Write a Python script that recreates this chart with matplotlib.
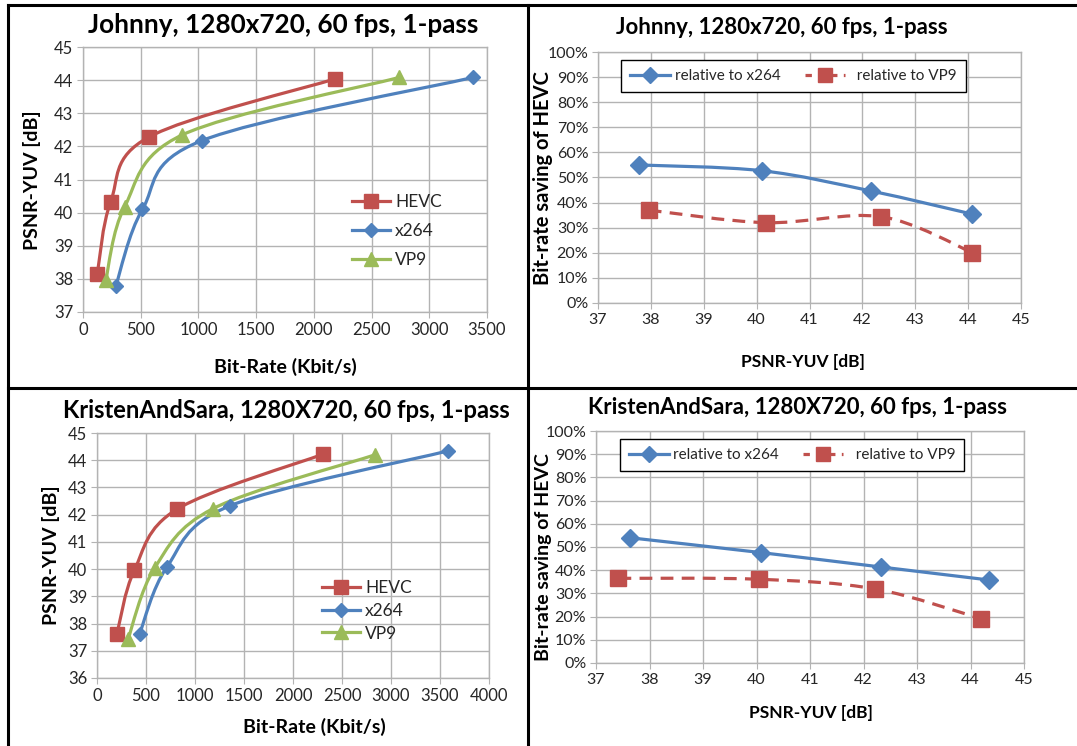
import numpy as np
import matplotlib
matplotlib.use("Agg")
import matplotlib.pyplot as plt
from matplotlib.path import Path
from matplotlib.patches import PathPatch
from matplotlib.lines import Line2D
from matplotlib.ticker import PercentFormatter, MultipleLocator

plt.rcParams['font.family'] = ['Lato', 'DejaVu Sans']

# ---- Johnny, 1280x720 ----
j_hevc_rate = [124, 240, 570, 2186]
j_hevc_psnr = [38.16, 40.33, 42.28, 44.04]
j_x264_rate = [283, 515, 1027, 3378]
j_x264_psnr = [37.77, 40.10, 42.17, 44.08]
j_vp9_rate = [197, 361, 862, 2739]
j_vp9_psnr = [37.96, 40.18, 42.35, 44.08]
j_sav_x264 = [55.0, 52.7, 44.6, 35.4]
j_sav_vp9 = [37.0, 32.0, 34.4, 20.1]

# ---- KristenAndSara, 1280X720 ----
k_hevc_rate = [204, 381, 816, 2305]
k_hevc_psnr = [37.63, 39.96, 42.20, 44.22]
k_x264_rate = [435, 714, 1353, 3579]
k_x264_psnr = [37.63, 40.08, 42.32, 44.34]
k_vp9_rate = [316, 588, 1183, 2838]
k_vp9_psnr = [37.42, 40.04, 42.22, 44.20]
k_sav_x264 = [54.0, 47.6, 41.4, 35.8]
k_sav_vp9 = [36.5, 36.1, 31.9, 19.1]

titles = ["Johnny, 1280x720, 60 fps, 1-pass",
          "KristenAndSara, 1280X720, 60 fps, 1-pass"]

RED = '#C0504D'
BLUE = '#4F81BD'
GREEN = '#9BBB59'
GRID = '#B3B3B3'
TXT = '#262626'

W, H = 1077, 746
fig = plt.figure(figsize=(W / 100, H / 100), dpi=100)


def px_axes(x0, y0, x1, y1):
    """Axes from pixel box (left, top, right, bottom)."""
    return fig.add_axes([x0 / W, 1 - y1 / H, (x1 - x0) / W, (y1 - y0) / H])


def ftext(x, y, s, **kw):
    fig.text(x / W, 1 - y / H, s, ha='center', va='center', **kw)


def smooth_path(ax, xs, ys):
    """Excel-like smoothed line through the points (bezier in screen space)."""
    pts = ax.transData.transform(np.column_stack([xs, ys]))
    n = len(pts)
    verts = [pts[0]]
    codes = [Path.MOVETO]
    for i in range(n - 1):
        p0 = pts[max(i - 1, 0)]
        p1 = pts[i]
        p2 = pts[i + 1]
        p3 = pts[min(i + 2, n - 1)]
        verts += [p1 + (p2 - p0) / 6, p2 - (p3 - p1) / 6, p2]
        codes += [Path.CURVE4] * 3
    return Path(ax.transData.inverted().transform(np.array(verts)), codes)


def style_axes(ax, size):
    ax.grid(True, color=GRID, lw=1.0)
    ax.set_axisbelow(True)
    for sp in ax.spines.values():
        sp.set_color(GRID)
        sp.set_linewidth(1.0)
    ax.tick_params(direction='out', length=4, color=GRID, labelcolor=TXT,
                   labelsize=size, pad=3)


def curve(ax, xs, ys, color, marker, ms, ls='-'):
    ax.add_patch(PathPatch(smooth_path(ax, xs, ys), fill=False, edgecolor=color,
                           lw=2.3, linestyle=ls, capstyle='butt', zorder=3))
    ax.plot(xs, ys, ls='none', marker=marker, ms=ms, color=color, zorder=4)


def rd_panel(box, xmax, ymin, hevc, x264, vp9, leg_anchor, leg_space):
    ax = px_axes(*box)
    ax.set_xlim(0, xmax)
    ax.set_ylim(ymin, 45)
    ax.xaxis.set_major_locator(MultipleLocator(500))
    ax.yaxis.set_major_locator(MultipleLocator(1))
    style_axes(ax, 12)
    curve(ax, *hevc, RED, 's', 10)
    curve(ax, *x264, BLUE, 'D', 7.5)
    curve(ax, *vp9, GREEN, '^', 10)
    handles = [Line2D([], [], color=RED, lw=2.3, marker='s', ms=10),
               Line2D([], [], color=BLUE, lw=2.3, marker='D', ms=7.5),
               Line2D([], [], color=GREEN, lw=2.3, marker='^', ms=10)]
    leg = ax.legend(handles, ['HEVC', 'x264', 'VP9'], loc='upper left',
                    bbox_to_anchor=(leg_anchor[0] / W, 1 - leg_anchor[1] / H),
                    bbox_transform=fig.transFigure, frameon=False,
                    fontsize=12.5, handlelength=2.2, handletextpad=0.3,
                    labelspacing=leg_space, borderpad=0)
    for t in leg.get_texts():
        t.set_color(TXT)
    return ax


def saving_panel(box, x264, vp9, leg_box):
    ax = px_axes(*box)
    ax.set_xlim(37, 45)
    ax.set_ylim(0, 100)
    ax.xaxis.set_major_locator(MultipleLocator(1))
    ax.yaxis.set_major_locator(MultipleLocator(10))
    ax.yaxis.set_major_formatter(PercentFormatter(decimals=0))
    style_axes(ax, 11.5)
    curve(ax, *x264, BLUE, 'D', 9)
    curve(ax, *vp9, RED, 's', 11, ls=(0, (4.0, 2.6)))
    handles = [Line2D([], [], color=BLUE, lw=2.3, marker='D', ms=8),
               Line2D([], [], color=RED, lw=2.3, marker='s', ms=10,
                      ls=(0, (2.0, 2.0)))]
    x0, y0, x1, y1 = leg_box
    leg = ax.legend(handles, ['relative to x264', '  relative to VP9'], ncol=2,
                    loc='center', bbox_to_anchor=((x0 + x1) / 2 / W, 1 - (y0 + y1) / 2 / H),
                    bbox_transform=fig.transFigure, fancybox=False,
                    edgecolor='black', framealpha=1, fontsize=11,
                    handlelength=2.6, handletextpad=0.3, columnspacing=1.6,
                    borderpad=0.6, borderaxespad=0)
    leg.get_frame().set_linewidth(1.0)
    for t in leg.get_texts():
        t.set_color(TXT)
    return ax


# top-left: rate-distortion, Johnny
rd_panel((83, 47, 487, 312), 3500, 37,
         (j_hevc_rate, j_hevc_psnr), (j_x264_rate, j_x264_psnr), (j_vp9_rate, j_vp9_psnr),
         (343, 185), 0.75)
# top-right: savings, Johnny
saving_panel((598, 52, 1021, 303), (j_x264_psnr, j_sav_x264), (j_vp9_psnr, j_sav_vp9),
             (626, 59, 961, 93))
# bottom-left: rate-distortion, KristenAndSara
rd_panel((97, 433, 489, 678), 4000, 36,
         (k_hevc_rate, k_hevc_psnr), (k_x264_rate, k_x264_psnr), (k_vp9_rate, k_vp9_psnr),
         (313, 571), 0.4)
# bottom-right: savings, KristenAndSara
saving_panel((596, 431, 1024, 663), (k_x264_psnr, k_sav_x264), (k_vp9_psnr, k_sav_vp9),
             (623, 438, 961, 472))

# titles and axis labels
ftext(283, 25, titles[0], fontsize=18.8, fontweight='bold', color='black')
ftext(782, 28, titles[0], fontsize=16, fontweight='bold', color='black')
ftext(286, 410, titles[1], fontsize=17.1, fontweight='bold', color='black')
ftext(797, 408, titles[1], fontsize=16, fontweight='bold', color='black')

lkw = dict(fontweight='bold', color='black')
ftext(32, 180, 'PSNR-YUV [dB]', rotation=90, fontsize=14, **lkw)
ftext(51, 555, 'PSNR-YUV [dB]', rotation=90, fontsize=14, **lkw)
ftext(543, 178, 'Bit-rate saving of HEVC', rotation=90, fontsize=14.5, **lkw)
ftext(543, 557, 'Bit-rate saving of HEVC', rotation=90, fontsize=14, **lkw)
ftext(285, 367, 'Bit-Rate (Kbit/s)', fontsize=14, **lkw)
ftext(314, 727, 'Bit-Rate (Kbit/s)', fontsize=14, **lkw)
ftext(803, 362, 'PSNR-YUV [dB]', fontsize=12.5, **lkw)
ftext(811, 713, 'PSNR-YUV [dB]', fontsize=12.5, **lkw)

# table borders
bkw = dict(color='black', lw=2.2, transform=fig.transFigure)
fig.add_artist(Line2D([8 / W, 8 / W], [0, 1 - 5 / H], **bkw))
fig.add_artist(Line2D([8 / W, 1], [1 - 5 / H, 1 - 5 / H], **bkw))
fig.add_artist(Line2D([528 / W, 528 / W], [0, 1 - 5 / H], **bkw))
fig.add_artist(Line2D([8 / W, 1], [1 - 388 / H, 1 - 388 / H], **bkw))

fig.savefig('out.png', dpi=100)
